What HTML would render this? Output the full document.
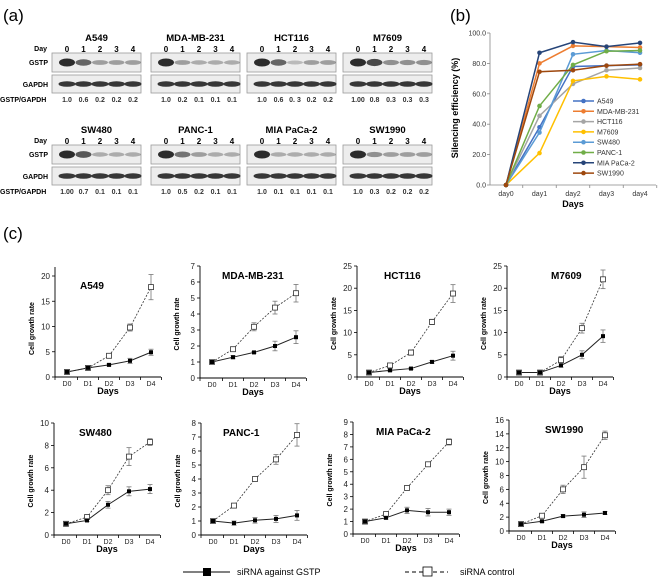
<!DOCTYPE html>
<html><head><meta charset="utf-8"><style>
body{margin:0;background:#fff;}
svg{display:block;font-family:"Liberation Sans",Arial,sans-serif;}
</style></head><body>
<svg id="fig" width="658" height="578" viewBox="0 0 658 578" xmlns="http://www.w3.org/2000/svg">
<g id="pa"></g>
<g id="pb"></g>
<g id="pc"></g>
</svg>
<script>
// ---------- Panel (b) data ----------
const bDays = ["day0","day1","day2","day3","day4"];
const bNames = ["A549","MDA-MB-231","HCT116","M7609","SW480","PANC-1","MIA PaCa-2","SW1990"];
const bA549 = [0,38,78,78.5,79];
const bMDA = [0,80,91.5,91,90.5];
const bHCT = [0,45.5,66.5,75.5,77];
const bM7609 = [0,21,68.5,71.5,69.5];
const bSW480 = [0,34.5,86,88.5,87];
const bPANC = [0,52,79,88,88.5];
const bMIA = [0,87,94,91,93.5];
const bSW1990 = [0,74.5,75.5,78.5,79.5];
const bTicks = ["0.0","20.0","40.0","60.0","80.0","100.0"];

// ---------- Panel (a) data ----------
const aCells = ["A549","MDA-MB-231","HCT116","M7609","SW480","PANC-1","MIA PaCa-2","SW1990"];
const aRatioLabels = [
 ["1.0","0.6","0.2","0.2","0.2"],["1.0","0.2","0.1","0.1","0.1"],["1.0","0.6","0. 3","0.2","0.2"],["1.00","0.8","0.3","0.3","0.3"],
 ["1.00","0.7","0.1","0.1","0.1"],["1.0","0.5","0.2","0.1","0.1"],["1.0","0.1","0.1","0.1","0.1"],["1.0","0.3","0.2","0.2","0.2"]];

// ---------- Panel (c) data ----------
const cTitles = ["A549","MDA-MB-231","HCT116","M7609","SW480","PANC-1","MIA PaCa-2","SW1990"];
const cDays = ["D0","D1","D2","D3","D4"];
const cSi = [[1,1.8,2.4,3.2,4.9],[1,1.3,1.6,2.0,2.55],[1,1.5,1.9,3.4,4.8],[1,1,2.6,5,9.2],
 [1,1.3,2.7,3.9,4.1],[1,0.85,1.05,1.15,1.4],[1,1.3,1.9,1.75,1.75],[1,1.4,2.15,2.35,2.6]];
const cSiErr = [[0.1,0.2,0.2,0.5,0.6],[0.15,0.1,0.05,0.3,0.4],[0.1,0.3,0.2,0.3,1],[0.1,0.2,0.4,0.9,1.4],
 [0.05,0.1,0.3,0.4,0.4],[0.15,0.15,0.2,0.25,0.35],[0.05,0.1,0.25,0.3,0.25],[0,0.15,0.2,0.4,0.2]];
const cCtrl = [[1,1.8,4.2,9.8,17.8],[1,1.8,3.2,4.4,5.3],[1,2.6,5.5,12.4,18.8],[1,1,3.8,11,22],
 [1,1.6,4,7,8.3],[1,2.1,4,5.4,7.15],[1,1.6,3.7,5.6,7.4],[1,2.2,6,9.2,13.8]];
const cCtrlErr = [[0.05,0.2,0.3,0.7,2.5],[0.15,0.1,0.25,0.4,0.55],[0.1,0.3,0.6,0.6,2],[0.1,0.2,0.8,1.1,2.1],
 [0.05,0.1,0.4,0.8,0.3],[0.15,0.15,0.1,0.35,0.8],[0,0.1,0.05,0.15,0.25],[0,0.3,0.6,1.6,0.6]];
const cMax = [20,7,25,25,10,8,9,16];
const cStep = [5,1,5,5,2,1,1,2];

const NS="http://www.w3.org/2000/svg";
function mk(parent,tag,attrs,text){const e=document.createElementNS(NS,tag);for(const k in attrs)e.setAttribute(k,attrs[k]);if(text!==undefined)e.textContent=text;parent.appendChild(e);return e;}

// ===== Panel A =====
const pa=document.getElementById('pa');
let t=mk(pa,'text',{x:3,y:21,'font-size':17},'(a)');


const aBoxX=[52,151,247,343];
for(let i=0;i<8;i++){
  const r=Math.floor(i/4), c=i%4, bx=aBoxX[c], bw=89;
  const oy=r===0?0:92;
  const g=mk(pa,'g',{});
  
  
  mk(g,'text',{x:bx+bw/2,y:41+oy,'font-size':9.5,'font-weight':'bold','text-anchor':'middle'},aCells[i]);
  for(let d=0;d<5;d++) mk(g,'text',{x:bx+15+d*16.5,y:52+oy,'font-size':8,'font-weight':'bold','text-anchor':'middle'},String(d));
  mk(g,'rect',{x:bx,y:53+oy,width:bw,height:19,fill:'#ededed',stroke:'#999','stroke-width':0.8});
  mk(g,'rect',{x:bx,y:75+oy,width:bw,height:18,fill:'#ededed',stroke:'#999','stroke-width':0.8});
  for(let d=0;d<5;d++){
    const v=parseFloat(aRatioLabels[i][d]);
    const op=0.25+0.7*Math.min(1,v);
    mk(g,'ellipse',{cx:bx+15+d*16.5,cy:62.5+oy,rx:8,ry:2+2*Math.min(1,v),fill:'#222','fill-opacity':op});
    mk(g,'ellipse',{cx:bx+15+d*16.5,cy:84+oy,rx:8.5,ry:2.8,fill:'#222','fill-opacity':0.9});
    mk(g,'text',{x:bx+15+d*16.5,y:102+oy,'font-size':7,'font-weight':'bold','text-anchor':'middle','fill':'#333'},aRatioLabels[i][d]);
  }
  if(c===0){
    mk(g,'text',{x:47,y:51+oy,'font-size':7,'font-weight':'bold','text-anchor':'end'},'Day');
    mk(g,'text',{x:48,y:65+oy,'font-size':7,'font-weight':'bold','text-anchor':'end'},'GSTP');
    mk(g,'text',{x:48,y:87+oy,'font-size':7,'font-weight':'bold','text-anchor':'end'},'GAPDH');
    mk(g,'text',{x:0,y:102+oy,'font-size':7,'font-weight':'bold'},'GSTP/GAPDH');
  }
}

// ===== Panel B =====
const pb=document.getElementById('pb');
t=mk(pb,'text',{x:450,y:21,'font-size':17},'(b)');


const bSeries=[bA549,bMDA,bHCT,bM7609,bSW480,bPANC,bMIA,bSW1990];
const bColors=['#4472C4','#ED7D31','#A5A5A5','#FFC000','#5B9BD5','#70AD47','#264478','#9E480E'];
const bx0=490,by0=185,byT=33,bxs=x=>506+x*33.5,bys=v=>by0-(v/100)*(by0-byT);
mk(pb,'line',{x1:bx0,y1:byT,x2:bx0,y2:by0,stroke:'#888','stroke-width':0.8});
mk(pb,'line',{x1:bx0,y1:by0,x2:656,y2:by0,stroke:'#888','stroke-width':0.8});
bTicks.forEach((lab,i)=>{const v=parseFloat(lab);const y=bys(v);
  mk(pb,'line',{x1:bx0-3,y1:y,x2:bx0,y2:y,stroke:'#888','stroke-width':0.8});
  const tt=mk(pb,'text',{x:bx0-4,y:y+2.5,'font-size':7,'text-anchor':'end',fill:'#333'},lab);
  
  });
bDays.forEach((d,i)=>{const tt=mk(pb,'text',{x:bxs(i),y:196,'font-size':7,'text-anchor':'middle',fill:'#333'},d);
  
  
  if(i<5)mk(pb,'line',{x1:bxs(i)+16.75,y1:by0,x2:bxs(i)+16.75,y2:by0+3,stroke:'#888','stroke-width':0.8});});
mk(pb,'text',{x:0,y:0,'font-size':9,'font-weight':'bold','text-anchor':'middle',transform:'translate(458,108) rotate(-90)'},'Silencing efficiency (%)');
mk(pb,'text',{x:573,y:207,'font-size':9,'font-weight':'bold','text-anchor':'middle'},'Days');
bSeries.forEach((s,k)=>{
  const g=mk(pb,'g',{});
  
  
  mk(g,'polyline',{points:s.map((v,i)=>bxs(i)+','+bys(v)).join(' '),fill:'none',stroke:bColors[k],'stroke-width':1.5});
  s.forEach((v,i)=>mk(g,'circle',{cx:bxs(i),cy:bys(v),r:2.3,fill:bColors[k]}));
});
bSeries.forEach((s,k)=>{
  const ly=101+k*10.3;
  const lg=mk(pb,'g',{});
  
  
  mk(lg,'line',{x1:573,y1:ly,x2:594,y2:ly,stroke:bColors[k],'stroke-width':1.5});
  mk(lg,'circle',{cx:583.5,cy:ly,r:2.3,fill:bColors[k]});
  mk(lg,'text',{x:597,y:ly+2.5,'font-size':7,fill:'#333'},bNames[k]);
});

// ===== Panel C =====
const pc=document.getElementById('pc');
t=mk(pc,'text',{x:3,y:239,'font-size':17},'(c)');


const cAx=[55,200,357,507,54,201,353,509];
const cY0=[377,378,377,377,535,535,534,531];
const cYT=[276,266,266,266,423,423,422,420];
for(let i=0;i<8;i++){
  const ax=cAx[i],y0=cY0[i],yT=cYT[i],mx=cMax[i];
  const xs=d=>ax+12+d*21, ys=v=>y0-(v/mx)*(y0-yT);
  const g=mk(pc,'g',{});
  
  
  const top=i===0?267:yT;
  mk(g,'line',{x1:ax,y1:top,x2:ax,y2:y0,stroke:'#000','stroke-width':0.9});
  mk(g,'line',{x1:ax,y1:y0,x2:ax+106,y2:y0,stroke:'#000','stroke-width':0.9});
  for(let v=0;v<=mx+1e-9;v+=cStep[i]){const y=ys(v);
    mk(g,'line',{x1:ax-3,y1:y,x2:ax,y2:y,stroke:'#000','stroke-width':0.8});
    mk(g,'text',{x:ax-5,y:y+3,'font-size':8,'text-anchor':'end',fill:'#222'},String(v));}
  cDays.forEach((d,k)=>{
    mk(g,'line',{x1:xs(k)+10.5,y1:y0,x2:xs(k)+10.5,y2:y0+3,stroke:'#000','stroke-width':0.8});
    mk(g,'text',{x:xs(k),y:y0+9,'font-size':7,'text-anchor':'middle',fill:'#222'},d);});
  mk(g,'line',{x1:ax,y1:y0,x2:ax,y2:y0+3,stroke:'#000','stroke-width':0.8});
  mk(g,'text',{x:ax+53,y:y0+17,'font-size':9,'font-weight':'bold','text-anchor':'middle'},'Days');
  mk(g,'text',{x:0,y:0,'font-size':7,'font-weight':'bold','text-anchor':'middle',transform:`translate(${ax-21},${(y0+yT)/2+2}) rotate(-90)`},'Cell growth rate');
  mk(g,'text',{x:ax+(i===1||i===5?22:(i===2?27:(i===6?23:(i===3?44:(i===7?36:25))))),y:yT+13,'font-size':10,'font-weight':'bold'},cTitles[i]);
  mk(g,'polyline',{points:cCtrl[i].map((v,k)=>xs(k)+','+ys(v)).join(' '),fill:'none',stroke:'#333','stroke-width':0.8,'stroke-dasharray':'2,1.5'});
  mk(g,'polyline',{points:cSi[i].map((v,k)=>xs(k)+','+ys(v)).join(' '),fill:'none',stroke:'#222','stroke-width':1});
  const eb=(v,e,k)=>{if(e<=0)return;const x=xs(k);
    mk(g,'line',{x1:x,y1:ys(v+e),x2:x,y2:ys(v-e),stroke:'#777','stroke-width':0.8});
    mk(g,'line',{x1:x-2.5,y1:ys(v+e),x2:x+2.5,y2:ys(v+e),stroke:'#777','stroke-width':0.8});
    mk(g,'line',{x1:x-2.5,y1:ys(v-e),x2:x+2.5,y2:ys(v-e),stroke:'#777','stroke-width':0.8});};
  cCtrl[i].forEach((v,k)=>{eb(v,cCtrlErr[i][k],k);
    mk(g,'rect',{x:xs(k)-2.5,y:ys(v)-2.5,width:5,height:5,fill:'#fff',stroke:'#333','stroke-width':0.8});});
  cSi[i].forEach((v,k)=>{eb(v,cSiErr[i][k],k);
    mk(g,'rect',{x:xs(k)-2,y:ys(v)-2,width:4,height:4,fill:'#000'});});
}
const lg1=mk(pc,'g',{});


mk(lg1,'line',{x1:183,y1:572,x2:230,y2:572,stroke:'#000','stroke-width':1});
mk(lg1,'rect',{x:203,y:568,width:8,height:8,fill:'#000'});
mk(lg1,'text',{x:237,y:575,'font-size':9},'siRNA against GSTP');
const lg2=mk(pc,'g',{});


mk(lg2,'line',{x1:405,y1:572,x2:448,y2:572,stroke:'#000','stroke-width':1,'stroke-dasharray':'4,3'});
mk(lg2,'rect',{x:423,y:567,width:9,height:9,fill:'#fff',stroke:'#000','stroke-width':0.8});
mk(lg2,'text',{x:460,y:575,'font-size':9},'siRNA control');
</script>
</body></html>
